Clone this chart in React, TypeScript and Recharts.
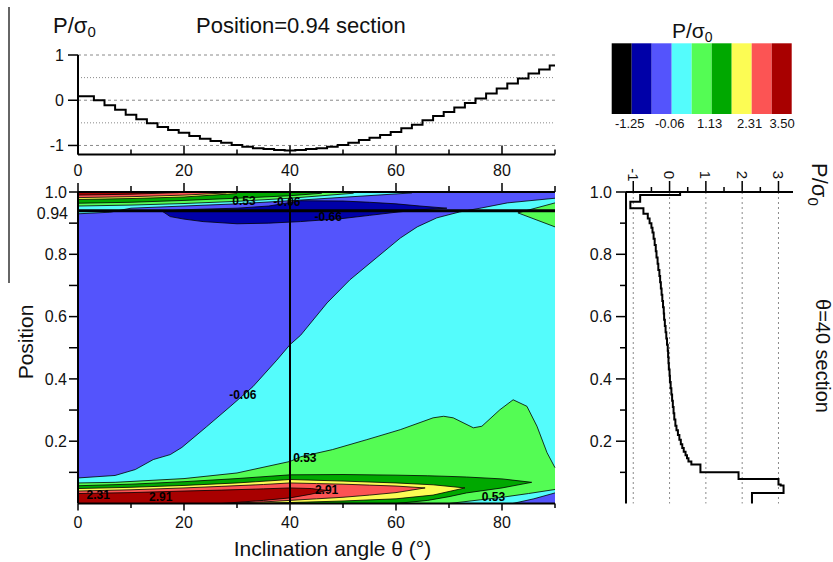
import React from "react";
import {
  ComposedChart,
  LineChart,
  Line,
  Area,
  XAxis,
  YAxis,
  CartesianGrid,
  ReferenceLine,
  ReferenceDot,
} from "recharts";

const FONT = '"Liberation Sans", Arial, Helvetica, sans-serif';

// P/σ0 along Position = 0.94, one step every 2°
const sectionAngle = [0, 2, 4, 6, 8, 10, 12, 14, 16, 18, 20, 22, 24, 26, 28, 30, 32, 34, 36, 38, 40, 42, 44, 46, 48, 50, 52, 54, 56, 58, 60, 62, 64, 66, 68, 70, 72, 74, 76, 78, 80, 82, 84, 86, 88, 90];
const sectionP = [0.09, 0.09, 0.0, -0.11, -0.21, -0.32, -0.42, -0.51, -0.59, -0.66, -0.72, -0.79, -0.85, -0.9, -0.94, -0.99, -1.03, -1.06, -1.08, -1.1, -1.11, -1.1, -1.08, -1.06, -1.03, -0.99, -0.94, -0.88, -0.83, -0.77, -0.7, -0.62, -0.54, -0.44, -0.35, -0.26, -0.16, -0.06, 0.04, 0.15, 0.26, 0.37, 0.48, 0.59, 0.68, 0.77];

// P/σ0 along θ = 40°, from the top of the section down
const profilePos = [1.0, 0.99, 0.969, 0.948, 0.93, 0.915, 0.9, 0.885, 0.87, 0.85, 0.83, 0.81, 0.79, 0.77, 0.75, 0.73, 0.71, 0.69, 0.67, 0.65, 0.63, 0.61, 0.59, 0.57, 0.55, 0.53, 0.51, 0.49, 0.47, 0.45, 0.43, 0.41, 0.39, 0.37, 0.35, 0.33, 0.31, 0.29, 0.27, 0.25, 0.235, 0.22, 0.205, 0.19, 0.178, 0.166, 0.155, 0.145, 0.135, 0.125, 0.1, 0.079, 0.061, 0.058, 0.034, 0.0];
const profileP = [0.29, -0.81, -1.08, -0.72, -0.6, -0.55, -0.5, -0.47, -0.44, -0.41, -0.38, -0.36, -0.33, -0.31, -0.28, -0.26, -0.24, -0.22, -0.2, -0.18, -0.16, -0.15, -0.13, -0.11, -0.09, -0.07, -0.05, -0.04, -0.03, -0.02, 0.0, 0.01, 0.03, 0.05, 0.07, 0.09, 0.11, 0.13, 0.16, 0.19, 0.23, 0.27, 0.31, 0.35, 0.39, 0.44, 0.48, 0.52, 0.6, 0.85, 1.9, 3.0, 3.06, 3.14, 2.27, 2.27];

// contour levels and their colours
const levelValues = [-1.84, -1.25, -0.66, -0.06, 0.53, 1.13, 1.72, 2.31, 2.91, 3.5];
const levelColors = ["#000000", "#0000a8", "#5454fc", "#54fcfc", "#54fc54", "#00a800", "#fcfc54", "#fc5454", "#a80000"];
const levelLabels = ["-1.25", "-0.06", "1.13", "2.31", "3.50"];

// contour regions: [angle, upper position] (filled down to 0)
const cyanMain = [[0, 0.082], [7, 0.09], [10.8, 0.109], [14.2, 0.141], [17.4, 0.157], [19.6, 0.18], [24.3, 0.247], [28.7, 0.311], [33, 0.375], [37.5, 0.46], [40, 0.51], [42, 0.54], [47, 0.644], [51.3, 0.718], [56.4, 0.79], [60.8, 0.852], [64, 0.888], [67.7, 0.917], [72, 0.936], [76.2, 0.949], [81, 0.965], [90, 0.98]];
const greenMain = [[0, 0.066], [7, 0.068], [20, 0.08], [30, 0.098], [40, 0.135], [42, 0.15], [48, 0.173], [54.5, 0.205], [60.8, 0.237], [67, 0.275], [69, 0.28], [70.8, 0.275], [74.6, 0.243], [76.2, 0.248], [79.6, 0.301], [82.1, 0.333], [84.7, 0.312], [86.6, 0.248], [88.5, 0.163], [90, 0.115]];
const cyanEdge = [[70, 0], [76, 0.012], [80, 0.02], [85, 0.032], [90, 0.045]];
const blueEdge = [[82, 0], [86, 0.015], [90, 0.034]];
// [angle, lower, upper]
const darkGreenLow = [[0, 0, 0.057], [10, 0, 0.062], [20, 0, 0.07], [30, 0, 0.08], [40, 0, 0.092], [50, 0, 0.093], [60, 0, 0.091], [66, 0.01, 0.089], [70, 0.022, 0.087], [73.3, 0.034, 0.085], [80, 0.05, 0.079], [85.6, 0.068, 0.068]];
const yellowLow = [[0, 0, 0.048], [10, 0, 0.052], [20, 0, 0.058], [30, 0, 0.066], [40, 0.003, 0.077], [50, 0.008, 0.072], [60, 0.015, 0.066], [67, 0.027, 0.06], [73, 0.05, 0.05]];
const pinkLow = [[0, 0, 0.04], [10, 0, 0.044], [20, 0, 0.05], [27, 0, 0.055], [35, 0.005, 0.061], [40, 0.01, 0.066], [45, 0.015, 0.064], [50, 0.02, 0.062], [55, 0.027, 0.059], [60, 0.035, 0.056], [65.5, 0.05, 0.05]];
const redLow = [[0, 0, 0.032], [10, 0, 0.035], [20, 0, 0.04], [27, 0, 0.043], [35, 0.01, 0.047], [40, 0.018, 0.05], [44, 0.03, 0.048], [47, 0.042, 0.042]];
const navyPocket = [[16, 0.937, 0.937], [17.4, 0.921, 0.94], [20, 0.913, 0.943], [23.6, 0.905, 0.945], [30, 0.898, 0.948], [36, 0.9, 0.955], [42, 0.905, 0.972], [50, 0.915, 0.971], [55, 0.925, 0.967], [60, 0.935, 0.962], [64.5, 0.943, 0.955], [69.6, 0.948, 0.948]];
const greenPatch = [[83, 0.933, 0.933], [90, 0.888, 0.965]];
// [angle, lower position] (filled up to 1)
const cyanTop = [[0, 0.93], [6, 0.935], [10, 0.948], [20, 0.955], [30, 0.962], [40, 0.972], [50, 0.983], [63, 0.997]];
const greenTop = [[0, 0.955], [10, 0.958], [20, 0.963], [30, 0.97], [40, 0.98], [52, 0.996]];
const darkGreenTop = [[0, 0.964], [10, 0.967], [20, 0.973], [30, 0.98], [40, 0.988], [46, 0.996]];
const yellowTop = [[0, 0.976], [10, 0.979], [20, 0.984], [30, 0.995]];
const pinkTop = [[0, 0.982], [10, 0.985], [20, 0.99], [28, 0.997]];
const redTop = [[0, 0.99], [10, 0.993], [19, 0.998]];

// contour labels
const contourLabelX = [31.3, 39.4, 47.2, 31.1, 42.8, 3.8, 15.6, 46.9, 78.4];
const contourLabelY = [0.972, 0.969, 0.919, 0.349, 0.146, 0.029, 0.021, 0.045, 0.023];
const contourLabelText = ["0.53", "-0.06", "-0.66", "-0.06", "0.53", "2.31", "2.91", "2.91", "0.53"];

const angleTicks = [0, 10, 20, 30, 40, 50, 60, 70, 80, 90];
const positionTicks = [0.1, 0.2, 0.3, 0.4, 0.5, 0.6, 0.7, 0.8, 0.9, 1.0, 0.94];
const profilePosTicks = [0.1, 0.2, 0.3, 0.4, 0.5, 0.6, 0.7, 0.8, 0.9, 1.0];
const positionLabels = [0.2, 0.4, 0.6, 0.8, 1.0];
const pTicks = [-1, -0.5, 0, 0.5, 1, 1.5, 2, 2.5, 3];
const pGrid = [-1, 0, 1, 2, 3];

const fill0 = (pts) => pts.map(([x, hi]) => [x, 0, hi]);
const fill1 = (pts) => pts.map(([x, lo]) => [x, lo, 1]);

const bands = [
  { key: "cyanMain", color: levelColors[3], pts: fill0(cyanMain) },
  { key: "greenMain", color: levelColors[4], pts: fill0(greenMain) },
  { key: "darkGreenLow", color: levelColors[5], pts: darkGreenLow },
  { key: "yellowLow", color: levelColors[6], pts: yellowLow },
  { key: "pinkLow", color: levelColors[7], pts: pinkLow },
  { key: "redLow", color: levelColors[8], pts: redLow },
  { key: "cyanEdge", color: levelColors[3], pts: fill0(cyanEdge) },
  { key: "blueEdge", color: levelColors[2], pts: fill0(blueEdge) },
  { key: "cyanTop", color: levelColors[3], pts: fill1(cyanTop) },
  { key: "greenTop", color: levelColors[4], pts: fill1(greenTop) },
  { key: "darkGreenTop", color: levelColors[5], pts: fill1(darkGreenTop) },
  { key: "yellowTop", color: levelColors[6], pts: fill1(yellowTop) },
  { key: "pinkTop", color: levelColors[7], pts: fill1(pinkTop) },
  { key: "redTop", color: levelColors[8], pts: fill1(redTop) },
  { key: "navyPocket", color: levelColors[1], pts: navyPocket },
  { key: "greenPatch", color: levelColors[4], pts: greenPatch },
];

const contourX = Array.from(new Set(bands.flatMap((b) => b.pts.map((p) => p[0])))).sort((a, b) => a - b);
const contourRows = contourX.map((x) => {
  const row: any = { x };
  bands.forEach((b) => {
    const p = b.pts.find((q) => q[0] === x);
    row[b.key] = p ? [p[1], p[2]] : null;
  });
  return row;
});

const sectionRows = sectionAngle.map((x, i) => ({ x, p: sectionP[i] }));
const profileRows = profilePos.map((pos, i) => ({ pos, val: profileP[i] }));

const axisStyle = { stroke: "#000", strokeWidth: 2 };
const txt = { fontFamily: FONT, fill: "#111" };

const SectionXTick = ({ x, y, payload }: any) => {
  const v = payload.value;
  const major = v % 20 === 0;
  return (
    <g>
      <line x1={x} x2={x} y1={y} y2={y - (major ? 9 : 5)} stroke="#000" strokeWidth={1.5} />
      {major ? <text x={x} y={y + 21} textAnchor="middle" fontSize={16} {...txt}>{v}</text> : null}
    </g>
  );
};

const SectionYTick = ({ x, y, payload }: any) => (
  <g>
    <line x1={x - 10} x2={x} y1={y} y2={y} stroke="#000" strokeWidth={1.5} />
    <text x={x - 14} y={y + 5.5} textAnchor="end" fontSize={16} {...txt}>{payload.value}</text>
  </g>
);

const MainXTick = ({ x, y, payload }: any) => {
  const v = payload.value;
  const major = v % 20 === 0;
  return (
    <g>
      <line x1={x} x2={x} y1={y} y2={y + (major ? 7 : 4.5)} stroke="#000" strokeWidth={1.5} />
      {major ? <text x={x} y={y + 24.5} textAnchor="middle" fontSize={16} {...txt}>{v}</text> : null}
    </g>
  );
};

const TopFrameTick = ({ x, y, payload }: any) => {
  const major = payload.value % 20 === 0;
  return <line x1={x} x2={x} y1={y} y2={y - (major ? 9 : 6)} stroke="#000" strokeWidth={1.5} />;
};

const PositionTick = ({ x, y, payload }: any) => {
  const v = payload.value;
  if (v === 0.94) {
    return <text x={x - 10} y={y + 8} textAnchor="end" fontSize={16} {...txt}>0.94</text>;
  }
  return (
    <g>
      <line x1={x - 9} x2={x} y1={y} y2={y} stroke="#000" strokeWidth={1.5} />
      {positionLabels.includes(v) ? (
        <text x={x - 11} y={y + 5.7} textAnchor="end" fontSize={16} {...txt}>{v.toFixed(1)}</text>
      ) : null}
    </g>
  );
};

const ProfileXTick = ({ x, y, payload }: any) => {
  const v = payload.value;
  const major = Number.isInteger(v);
  return (
    <g>
      <line x1={x} x2={x} y1={y} y2={y - (major ? 11 : 5)} stroke="#000" strokeWidth={1.5} />
      {major ? (
        <text x={x} y={y - 17} transform={`rotate(90 ${x} ${y - 17})`} textAnchor="middle" dominantBaseline="central" fontSize={15} {...txt}>{v}</text>
      ) : null}
    </g>
  );
};

const ProfileYTick = ({ x, y, payload }: any) => {
  const v = payload.value;
  const major = positionLabels.includes(v);
  return (
    <g>
      <line x1={x - (major ? 10 : 6)} x2={x} y1={y} y2={y} stroke="#000" strokeWidth={1.5} />
      {major ? <text x={x - 14} y={y + 5.7} textAnchor="end" fontSize={16} {...txt}>{v.toFixed(1)}</text> : null}
    </g>
  );
};

function SectionPanel() {
  return (
    <LineChart width={600} height={185} data={sectionRows} margin={{ top: 55, right: 45, bottom: 0, left: 0 }}>
      <XAxis type="number" dataKey="x" domain={[0, 90]} ticks={angleTicks} interval={0} height={30.5}
        tickSize={0} tickMargin={0} tickLine={false} axisLine={axisStyle} tick={SectionXTick} />
      <YAxis type="number" domain={[-1.2, 1]} ticks={[-1, 0, 1]} interval={0} width={78}
        tickSize={0} tickMargin={0} tickLine={false} axisLine={axisStyle} tick={SectionYTick} />
      {[-1, 0, 1].map((v) => (
        <ReferenceLine key={"d" + v} y={v} stroke="#8a8a8a" strokeDasharray="3 3" strokeWidth={1} />
      ))}
      {[-0.5, 0.5].map((v) => (
        <ReferenceLine key={"o" + v} y={v} stroke="#8a8a8a" strokeDasharray="1 2" strokeWidth={1} />
      ))}
      <Line dataKey="p" type="step" stroke="#000" strokeWidth={2} dot={false} activeDot={false} isAnimationActive={false} />
    </LineChart>
  );
}

function ContourPanel() {
  return (
    <ComposedChart width={600} height={392} data={contourRows} margin={{ top: 12, right: 45, bottom: 0, left: 0 }}>
      <CartesianGrid fill={levelColors[2]} fillOpacity={1} horizontal={false} vertical={false} />
      <XAxis xAxisId="top" orientation="top" type="number" dataKey="x" domain={[0, 90]} ticks={angleTicks} interval={0}
        height={10} tickSize={0} tickMargin={0} tickLine={false} axisLine={axisStyle} tick={TopFrameTick} />
      <XAxis type="number" dataKey="x" domain={[0, 90]} ticks={angleTicks} interval={0} height={58.5}
        tickSize={0} tickMargin={0} tickLine={false} axisLine={axisStyle} tick={MainXTick} />
      <YAxis type="number" domain={[0, 1]} ticks={positionTicks} interval={0} width={78}
        tickSize={0} tickMargin={0} tickLine={false} axisLine={axisStyle} tick={PositionTick} />
      {bands.map((b) => (
        <Area key={b.key} dataKey={b.key} type="linear" fill={b.color} fillOpacity={1} stroke="#000" strokeWidth={0.8}
          connectNulls dot={false} activeDot={false} isAnimationActive={false} />
      ))}
      <ReferenceLine x={40} stroke="#000" strokeWidth={2} />
      <ReferenceLine y={0.94} stroke="#000" strokeWidth={3} />
      {contourLabelText.map((t, i) => (
        <ReferenceDot key={i} x={contourLabelX[i]} y={contourLabelY[i]} r={0} fill="none" stroke="none"
          label={{ value: t, position: "center", fontSize: 12, fontWeight: 700, fill: "#000", fontFamily: FONT }} />
      ))}
    </ComposedChart>
  );
}

function ProfilePanel() {
  return (
    <LineChart layout="vertical" width={273} height={422} data={profileRows} margin={{ top: 12, right: 40, bottom: 58.5, left: 16 }}>
      <XAxis type="number" orientation="top" domain={[-1.2, 3.4]} ticks={pTicks} interval={0} height={40}
        tickSize={0} tickMargin={0} tickLine={false} axisLine={axisStyle} tick={ProfileXTick} />
      <YAxis type="number" dataKey="pos" domain={[0, 1]} reversed ticks={profilePosTicks} interval={0} width={50}
        tickSize={0} tickMargin={0} tickLine={false} axisLine={axisStyle} tick={ProfileYTick} />
      {pGrid.map((v) => (
        <ReferenceLine key={v} x={v} stroke="#8a8a8a" strokeDasharray="2 3" strokeWidth={1} />
      ))}
      <Line dataKey="val" type="stepBefore" stroke="#000" strokeWidth={2} dot={false} activeDot={false} isAnimationActive={false} />
    </LineChart>
  );
}

function Overlay() {
  const barLeft = 611.7;
  const cell = 20;
  return (
    <svg width={833} height={562} style={{ position: "absolute", left: 0, top: 0, pointerEvents: "none" }}>
      <line x1={9} x2={9} y1={7} y2={283} stroke="#333" strokeWidth={1.5} />
      <text x={53} y={33} fontSize={22} {...txt}>
        P/σ<tspan fontSize={15} dy={4}>0</tspan>
      </text>
      <text x={196} y={33} fontSize={22} {...txt}>Position=0.94 section</text>

      <text x={672} y={38} fontSize={21} {...txt}>
        P/σ<tspan fontSize={14} dy={4}>0</tspan>
      </text>
      {levelColors.map((c, i) => (
        <rect key={c} x={barLeft + i * cell} y={43.3} width={cell} height={70.7} fill={c} />
      ))}
      {levelLabels.map((t, i) => {
        const last = i === levelLabels.length - 1;
        return (
          <text key={t} x={last ? barLeft + 9 * cell + 3 : barLeft + (2 * i + 1) * cell - 2} y={128}
            textAnchor={last ? "end" : "middle"} fontSize={13} {...txt}>{t}</text>
        );
      })}

      <text transform="translate(33,342) rotate(-90)" textAnchor="middle" fontSize={21} {...txt}>Position</text>
      <text x={332.5} y={556} textAnchor="middle" fontSize={21} {...txt}>Inclination angle θ (°)</text>

      <text transform="translate(812,163) rotate(90)" fontSize={22} {...txt}>
        P/σ<tspan fontSize={15} dy={4}>0</tspan>
      </text>
      <text transform="translate(816,356) rotate(90)" textAnchor="middle" fontSize={20} {...txt}>θ=40 section</text>
    </svg>
  );
}

export default function App() {
  return (
    <div style={{ position: "absolute", left: 0, top: 0, width: 833, height: 562, background: "#fff", fontFamily: FONT }}>
      <div style={{ position: "absolute", left: 0, top: 0 }}>
        <SectionPanel />
      </div>
      <div style={{ position: "absolute", left: 0, top: 170 }}>
        <ContourPanel />
      </div>
      <div style={{ position: "absolute", left: 560, top: 140 }}>
        <ProfilePanel />
      </div>
      <Overlay />
    </div>
  );
}
